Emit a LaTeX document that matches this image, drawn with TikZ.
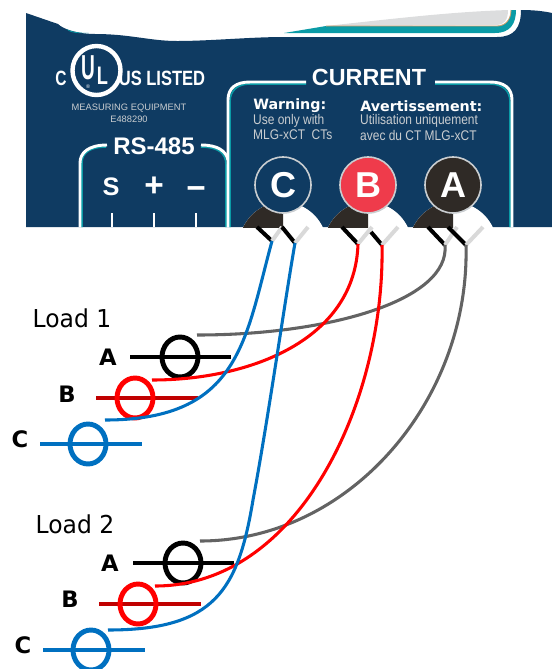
\documentclass[tikz,border=0pt]{standalone}
\usepackage{fontspec}
\setmainfont{Liberation Sans}
\newfontfamily\loadfont{DejaVu Sans}
\usetikzlibrary{positioning}

\definecolor{panelblue}{HTML}{0F3B62}
\definecolor{trimteal}{HTML}{0A9BA6}
\definecolor{trimgray}{HTML}{DCDDDE}
\definecolor{trimtan}{HTML}{D9A06B}
\definecolor{darkbrown}{HTML}{2F2A26}
\definecolor{badgered}{HTML}{EF3B4B}
\definecolor{ringgray}{HTML}{C9CDD0}
\definecolor{wireblue}{HTML}{0070C0}
\definecolor{wirered}{HTML}{FF0000}
\definecolor{wiregray}{HTML}{636363}
\definecolor{bardarkred}{HTML}{C00000}
\definecolor{stubgray}{HTML}{D9D9D9}

\newcommand{\fs}[1]{\fontsize{#1}{#1}\selectfont}

\tikzset{
  paneltext/.style={text=white,inner sep=0pt},
  smalltext/.style={text=ringgray,inner sep=0pt,anchor=west,font=\fs{10.5},xscale=0.855,transform shape},
  warnhead/.style={text=white,inner sep=0pt,anchor=west,font=\loadfont\bfseries\fs{10.7}},
  boxline/.style={draw=white,line width=2.2pt},
  boxteal/.style={draw=trimteal,line width=1.2pt},
  badge/.style={draw=ringgray,line width=1.2pt},
  stubblack/.style={draw=black,line width=3pt},
  stubgrey/.style={draw=stubgray,line width=3pt},
  wire/.style={line width=2.3pt},
  bar/.style={line width=3.4pt},
  ring/.style={line width=3.7pt},
  phase/.style={font=\loadfont\bfseries\fs{17},inner sep=0pt},
  loadname/.style={font=\loadfont\fs{18.5},inner sep=0pt,xscale=0.95,transform shape},
}

\begin{document}
\begin{tikzpicture}[x=0.75pt,y=-0.75pt]
  \useasboundingbox (0,0) rectangle (552,669);

  %Draw the meter panel
  \fill[panelblue] (26,13) -- (58,24) .. controls (64,30) and (80,34) .. (95,34)
     .. controls (130,34) and (150,41) .. (177,41) .. controls (210,41) and (250,37) .. (284,37)
     -- (497,37) .. controls (514,37) and (521,28) .. (521,10) .. controls (533,10) and (543,11) .. (552,13)
     -- (552,227) -- (26,227) -- cycle ;
  \fill[trimteal] (66,29) .. controls (72,32) and (80,33) .. (89,33) .. controls (78,33.5) and (70,33) .. (66,29) -- cycle ;
  \fill[trimteal] (284,33) -- (326,26) -- (497,26) .. controls (505,26) and (511,20) .. (511,10)
     -- (516,10) .. controls (516,24) and (510,33) .. (495,33) -- cycle ;
  \fill[trimgray] (326,26) .. controls (400,18) and (450,12) .. (508,10) .. controls (508,20) and (504,25) .. (497,25) -- cycle ;
  \draw[trimtan,line width=0.6pt] (326,26) -- (497,26) .. controls (505,26) and (511,20) .. (511,10) ;

  %UL mark
  \draw[white,line width=3.3pt] (96.5,70.5) ellipse (24 and 24.5) ;
  \node[paneltext,font=\bfseries\fs{26},xscale=0.55,transform shape] (ulU) at (88.5,68) {U} ;
  \node[paneltext,font=\bfseries\fs{19},xscale=0.72,transform shape] (ulL) at (102.5,76) {L} ;
  \node[paneltext,font=\fs{4}] (ulR) at (88,87) {®} ;
  \node[paneltext,font=\bfseries\fs{15.5},xscale=0.75,transform shape] (ulC) at (61,78) {C} ;
  \node[paneltext,font=\bfseries\fs{15.5},xscale=0.8,transform shape] (ulUS) at (162,78) {US LISTED} ;
  \node[paneltext,text=ringgray,font=\fs{7}] (equip) at (129,108) {MEASURING EQUIPMENT} ;
  \node[paneltext,text=ringgray,font=\fs{7}] (fileno) at (129,119) {E488290} ;

  %RS-485 box
  \draw[boxteal] (82,227) -- (82,163) .. controls (82,153) and (90,147) .. (106,147) ;
  \draw[boxline] (80,227) -- (80,163) .. controls (80,153) and (88,145) .. (107,145) ;
  \draw[boxteal] (226,227) -- (226,165) .. controls (226,153) and (218,147) .. (201,147) ;
  \draw[boxline] (228,160) .. controls (226,151) and (218,145) .. (201,145) ;
  \node[paneltext,font=\bfseries\fs{18}] (rsname) at (154,146) {RS-485} ;
  \node[paneltext,font=\bfseries\fs{19}] (pinS) at (111,187) {S} ;
  \node[paneltext,font=\bfseries\fs{25}] (pinP) at (154,187) {+} ;
  \node[paneltext,font=\bfseries\fs{25}] (pinM) at (196,193) {\textminus} ;
  \draw[white,line width=1.6pt] (112,213) -- (112,227) ;
  \draw[white,line width=1.6pt] (154,213) -- (154,227) ;
  \draw[white,line width=1.6pt] (196,213) -- (196,227) ;

  %CURRENT box
  \draw[boxteal] (230,227) -- (230,102) .. controls (230,90) and (238,84) .. (250,84) -- (306,84) ;
  \draw[boxline] (228,227) -- (228,100) .. controls (228,88) and (236,82) .. (250,82) -- (306,82) ;
  \draw[boxteal] (510,227) -- (510,102) .. controls (510,90) and (502,84) .. (490,84) -- (435,84) ;
  \draw[boxline] (512,227) -- (512,100) .. controls (512,88) and (504,82) .. (490,82) -- (435,82) ;
  \node[paneltext,font=\bfseries\fs{17.5}] (curname) at (369,77) {CURRENT} ;
  \node[warnhead] (warnen) at (253,106) {Warning:} ;
  \node[smalltext] (warnenA) at (253,121) {Use only with} ;
  \node[smalltext] (warnenB) at (253,135) {MLG-xCT\ \ CTs} ;
  \node[warnhead] (warnfr) at (360,106) {Avertissement:} ;
  \node[smalltext] (warnfrA) at (360,121) {Utilisation uniquement} ;
  \node[smalltext] (warnfrB) at (360,135) {avec du CT MLG-xCT} ;

  %Terminal domes, cut off at the panel edge
  \begin{scope}
    \clip (26,13) rectangle (552,227) ;
    \fill[white] (283,246) circle (44) ;
    \fill[darkbrown] (283,202) arc (270:180:44) -- (283,246) -- cycle ;
    \fill[white] (368,246) circle (44) ;
    \fill[darkbrown] (368,202) arc (270:180:44) -- (368,246) -- cycle ;
    \fill[white] (453,246) circle (44) ;
    \fill[darkbrown] (453,202) arc (270:180:44) -- (453,246) -- cycle ;
  \end{scope}

  %Phase badges
  \fill[panelblue] (283,185) circle (28) ;
  \draw[badge] (283,185) circle (28) ;
  \node[paneltext,font=\bfseries\fs{27}] (badgeC) at (283,185) {C} ;
  \fill[badgered] (368,185) circle (28) ;
  \draw[badge] (368,185) circle (28) ;
  \node[paneltext,font=\bfseries\fs{27}] (badgeB) at (368,185) {B} ;
  \fill[darkbrown] (453,185) circle (28) ;
  \draw[badge] (453,185) circle (28) ;
  \node[paneltext,font=\bfseries\fs{27}] (badgeA) at (453,185) {A} ;

  %Wire ends at the terminals
  \coordinate (termC1) at (272,241) ;
  \coordinate (termC2) at (295,243) ;
  \coordinate (termB1) at (358,244) ;
  \coordinate (termB2) at (382,245) ;
  \coordinate (termA1) at (445,245) ;
  \coordinate (termA2) at (466,245) ;

  %Stubs
  \draw[stubblack] (257,227) -- (termC1) ;
  \draw[stubgrey] (termC1) -- (282,227) ;
  \draw[stubblack] (282,227) -- (termC2) ;
  \draw[stubgrey] (termC2) -- (308,227) ;
  \draw[stubblack] (342,227) -- (termB1) ;
  \draw[stubgrey] (termB1) -- (372,227) ;
  \draw[stubblack] (371,232) -- (termB2) ;
  \draw[stubgrey] (termB2) -- (398,227) ;
  \draw[stubblack] (428,227) -- (termA1) ;
  \draw[stubgrey] (termA1) -- (457,227) ;
  \draw[stubblack] (448,227) -- (termA2) ;
  \draw[stubgrey] (termA2) -- (483,227) ;

  %Load 1
  \node[loadname] (loadone) at (72,318) {Load 1} ;
  \draw[bar,black] (130,357) -- (231,357) ;
  \draw[ring,black] (180,357) ellipse (18 and 20) ;
  \node[phase] (aone) at (108,357) {A} ;
  \draw[bar,bardarkred] (96,398) -- (198,398) ;
  \draw[ring,wirered] (135,398) ellipse (18 and 20) ;
  \node[phase] (bone) at (67,394) {B} ;
  \draw[bar,wireblue] (40,444) -- (142,444) ;
  \draw[ring,wireblue] (88,444) ellipse (18 and 20) ;
  \node[phase] (cone) at (20,439) {C} ;
  \coordinate (endAone) at (197,335) ;
  \coordinate (endBone) at (152,380) ;
  \coordinate (endCone) at (105,420) ;

  %Load 2
  \node[loadname] (loadtwo) at (75,524) {Load 2} ;
  \draw[bar,black] (133,563) -- (234,563) ;
  \draw[ring,black] (183,563) ellipse (18 and 20) ;
  \node[phase] (atwo) at (110,563) {A} ;
  \draw[bar,bardarkred] (99,604) -- (201,604) ;
  \draw[ring,wirered] (138,604) ellipse (18 and 20) ;
  \node[phase] (btwo) at (70,599) {B} ;
  \draw[bar,wireblue] (43,650) -- (145,650) ;
  \draw[ring,wireblue] (91,650) ellipse (18 and 20) ;
  \node[phase] (ctwo) at (23,645) {C} ;
  \coordinate (endAtwo) at (200,541) ;
  \coordinate (endBtwo) at (155,586) ;
  \coordinate (endCtwo) at (108,630) ;

  %Draw wires back to the terminals
  \draw[wire,wiregray] (termA1) .. controls (450,300) and (330,335) .. (endAone) ;
  \draw[wire,wiregray] (termA2) .. controls (470,400) and (350,541) .. (endAtwo) ;
  \draw[wire,wirered] (termB1) .. controls (355,340) and (250,380) .. (endBone) ;
  \draw[wire,wirered] (termB2) .. controls (385,400) and (300,586) .. (endBtwo) ;
  \draw[wire,wireblue] (termC1) .. controls (245,340) and (240,420) .. (endCone) ;
  \draw[wire,wireblue] (termC2) .. controls (285,300) and (268,420) .. (253,500)
     .. controls (238,590) and (215,630) .. (endCtwo) ;
\end{tikzpicture}
\end{document}
